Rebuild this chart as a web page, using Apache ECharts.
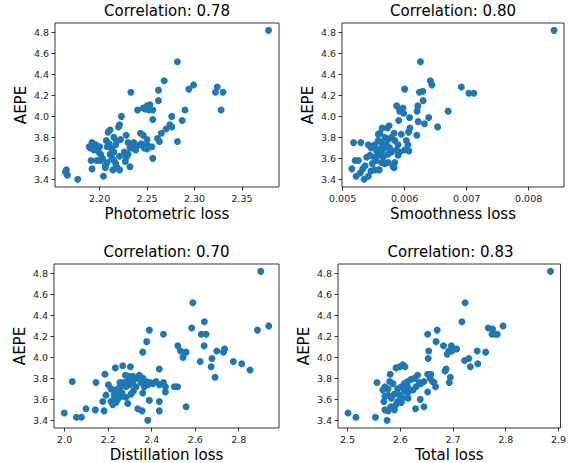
<!DOCTYPE html>
<html>
<head>
<meta charset="utf-8">
<script src="https://cdn.jsdelivr.net/npm/echarts@6/dist/echarts.min.js"></script>
<style>
  html, body { margin: 0; padding: 0; background: #fff; }
  #chart { width: 569px; height: 463px; }
</style>
</head>
<body>
<div id="chart"></div>
<script>
// ---- Data (x value, AEPE) ----
const photometric = [
  [2.378,4.82],[2.282,4.52],[2.268,4.34],[2.299,4.30],[2.294,4.26],[2.322,4.23],[2.324,4.28],[2.330,4.23],[2.328,4.06],
  [2.233,4.23],[2.262,4.25],[2.262,4.15],[2.240,4.06],[2.246,4.08],[2.250,4.10],[2.252,4.06],[2.248,4.07],[2.256,4.06],[2.253,4.11],
  [2.256,3.97],[2.290,4.06],[2.276,4.00],[2.287,3.96],[2.274,3.92],[2.276,3.90],[2.270,3.88],[2.265,3.84],[2.282,3.76],
  [2.223,4.00],[2.221,3.92],[2.220,3.90],[2.211,3.87],[2.209,3.85],[2.215,3.80],[2.228,3.82],
  [2.243,3.84],[2.246,3.82],[2.250,3.78],[2.261,3.79],[2.263,3.76],[2.250,3.73],[2.255,3.71],[2.250,3.69],[2.243,3.73],
  [2.236,3.75],[2.234,3.72],[2.232,3.70],[2.256,3.60],[2.222,3.78],[2.218,3.76],[2.217,3.73],
  [2.189,3.71],[2.192,3.75],[2.196,3.73],[2.190,3.70],[2.200,3.71],[2.194,3.68],
  [2.207,3.77],[2.208,3.71],[2.210,3.74],[2.213,3.69],[2.211,3.64],
  [2.201,3.64],[2.191,3.58],[2.197,3.58],[2.201,3.58],[2.208,3.56],[2.206,3.53],[2.215,3.58],[2.217,3.55],[2.218,3.52],
  [2.192,3.50],[2.206,3.51],[2.214,3.49],[2.221,3.49],[2.232,3.52],
  [2.204,3.43],[2.177,3.40],[2.164,3.47],[2.165,3.49],[2.166,3.44],
  [2.226,3.66],[2.228,3.61],[2.230,3.64],[2.227,3.57],[2.235,3.70],[2.240,3.72],
  [2.199,3.66],[2.213,3.60],[2.221,3.62],[2.203,3.60],
  [2.230,3.75],[2.238,3.68],[2.244,3.74],[2.247,3.70],[2.215,3.66]
];
const smoothness = [
  [0.00841,4.82],[0.006255,4.52],[0.006415,4.34],[0.006441,4.30],[0.006915,4.28],[0.007037,4.22],[0.007117,4.22],
  [0.0060,4.26],[0.006293,4.24],[0.006239,4.23],[0.006298,4.15],[0.006213,4.10],[0.006202,4.05],
  [0.005872,4.10],[0.00592,4.05],[0.005973,4.08],[0.005984,4.03],[0.006702,4.05],[0.006388,3.99],[0.00608,3.99],
  [0.006218,3.95],[0.006319,3.93],[0.006532,3.90],[0.005904,3.96],[0.006085,3.89],[0.006064,3.85],[0.006197,3.82],
  [0.00575,3.91],[0.005723,3.89],[0.005638,3.89],[0.005601,3.84],[0.005574,3.83],
  [0.005176,3.75],[0.005293,3.75],[0.005415,3.73],[0.005457,3.70],[0.005495,3.72],[0.005521,3.73],
  [0.005681,3.80],[0.005734,3.78],[0.005787,3.80],[0.00584,3.77],[0.005894,3.73],[0.006027,3.77],[0.006053,3.73],
  [0.0060,3.68],[0.006069,3.67],[0.005867,3.68],[0.00592,3.66],[0.005894,3.63],
  [0.005388,3.61],[0.005441,3.63],[0.005511,3.61],[0.005574,3.63],[0.005654,3.61],[0.005537,3.58],[0.005628,3.56],
  [0.005202,3.58],[0.005255,3.58],[0.005681,3.55],[0.005734,3.56],[0.00584,3.56],[0.005814,3.52],[0.00583,3.51],
  [0.005149,3.50],[0.005362,3.53],[0.005324,3.50],[0.005282,3.46],[0.005218,3.43],
  [0.005457,3.48],[0.005521,3.49],[0.00559,3.49],[0.005346,3.40],[0.005415,3.43],[0.005479,3.55],
  [0.005548,3.67],[0.005601,3.69],[0.005628,3.66],[0.005681,3.70],[0.005707,3.73],[0.005761,3.70],
  [0.005574,3.77],[0.005628,3.75],[0.005787,3.66],[0.005734,3.64],[0.005947,3.83],[0.00583,3.84]
];
const distillation = [
  [2.901,4.82],[2.589,4.52],[2.642,4.34],[2.584,4.28],[2.886,4.26],[2.938,4.30],[2.389,4.26],[2.454,4.22],
  [2.628,4.22],[2.650,4.22],[2.641,4.11],[2.377,4.15],[2.359,4.05],[2.520,4.11],[2.533,4.06],[2.558,4.05],[2.544,4.00],
  [2.699,4.06],[2.735,4.08],[2.730,4.05],[2.677,3.99],[2.623,3.96],[2.775,3.96],[2.814,3.94],[2.852,3.88],[2.673,3.91],[2.691,3.81],
  [2.035,3.77],[2.144,3.76],[2.185,3.84],[2.233,3.90],[2.267,3.92],[2.302,3.91],[2.435,3.89],
  [1.998,3.47],[2.054,3.43],[2.077,3.43],[2.098,3.51],[2.141,3.50],[2.181,3.49],[2.175,3.58],[2.190,3.64],
  [2.201,3.74],[2.213,3.70],[2.382,3.40],[2.558,3.53],[2.435,3.49],[2.435,3.58],[2.389,3.59],[2.336,3.51],[2.356,3.49],
  [2.290,3.56],[2.282,3.62],[2.264,3.66],[2.251,3.64],
  [2.221,3.55],[2.236,3.57],[2.213,3.58],[2.228,3.61],[2.244,3.60],[2.259,3.72],[2.270,3.76],[2.282,3.72],[2.290,3.77],[2.300,3.74],
  [2.313,3.82],[2.328,3.80],[2.343,3.83],[2.359,3.80],[2.374,3.77],[2.351,3.76],[2.366,3.72],[2.382,3.74],[2.392,3.76],
  [2.405,3.75],[2.420,3.77],[2.435,3.74],[2.454,3.76],[2.463,3.72],[2.463,3.67],[2.359,3.66],[2.504,3.72],[2.519,3.72],
  [2.279,3.83],[2.294,3.82],[2.313,3.77],[2.328,3.72],[2.316,3.68],[2.305,3.65],
  [2.236,3.69],[2.251,3.71],[2.244,3.66],[2.267,3.63],[2.228,3.65],[2.254,3.76]
];
const totalLoss = [
  [2.885,4.82],[2.723,4.52],[2.717,4.34],[2.795,4.30],[2.767,4.28],[2.775,4.27],[2.781,4.22],[2.774,4.22],[2.784,4.22],
  [2.670,4.26],[2.652,4.22],[2.668,4.15],[2.682,4.11],[2.697,4.11],[2.702,4.08],[2.707,4.08],[2.692,4.06],[2.689,4.03],[2.698,4.06],
  [2.654,4.06],[2.653,3.99],[2.746,4.06],[2.762,4.05],[2.722,3.97],[2.730,3.99],[2.733,3.91],[2.747,3.94],
  [2.687,3.89],[2.685,3.87],[2.695,3.81],[2.693,3.76],[2.599,3.91],[2.605,3.93],[2.609,3.91],[2.581,3.84],[2.556,3.76],
  [2.501,3.47],[2.516,3.43],[2.553,3.43],[2.575,3.40],[2.629,3.51],[2.645,3.53],[2.638,3.60],
  [2.652,3.84],[2.658,3.84],[2.657,3.80],[2.652,3.67],[2.667,3.72],[2.664,3.76],[2.661,3.77],[2.645,3.77],[2.639,3.75],
  [2.633,3.83],[2.627,3.80],[2.620,3.79],[2.614,3.77],[2.608,3.75],[2.614,3.72],[2.602,3.72],[2.595,3.70],[2.599,3.64],
  [2.608,3.68],[2.614,3.66],[2.615,3.61],[2.571,3.72],[2.577,3.70],[2.567,3.69],[2.580,3.77],[2.586,3.75],
  [2.571,3.63],[2.577,3.64],[2.583,3.61],[2.589,3.65],[2.595,3.58],[2.602,3.57],[2.605,3.61],
  [2.569,3.58],[2.571,3.50],[2.577,3.49],[2.582,3.53],[2.589,3.50],[2.592,3.55],[2.592,3.90],
  [2.630,3.72],[2.624,3.69],[2.636,3.76]
];

const titles = ['Correlation: 0.78', 'Correlation: 0.80', 'Correlation: 0.70', 'Correlation: 0.83'];
const xNames = ['Photometric loss', 'Smoothness loss', 'Distillation loss', 'Total loss'];
const yName = 'AEPE';
const yTicks = [3.4, 3.6, 3.8, 4.0, 4.2, 4.4, 4.6, 4.8];
const xTicks = [
  [2.20, 2.25, 2.30, 2.35],
  [0.005, 0.006, 0.007, 0.008],
  [2.0, 2.2, 2.4, 2.6, 2.8],
  [2.5, 2.6, 2.7, 2.8, 2.9]
];
const xDecimals = [2, 3, 1, 1];
const xRanges = [[2.153, 2.389], [0.00499, 0.00857], [1.951, 2.985], [2.482, 2.904]];
const yRange = [3.327, 4.89];
const allData = [photometric, smoothness, distillation, totalLoss];

// ---- Layout ----
const grids = [
  { left: 55, top: 23, width: 224, height: 164 },
  { left: 342, top: 23, width: 222, height: 164 },
  { left: 54, top: 264, width: 225, height: 165 },
  { left: 338, top: 264, width: 225, height: 165 }
];
const FONT = 'DejaVu Sans';
const tickColor = '#000';

const option = {
  animation: false,
  backgroundColor: '#fff',
  title: grids.map((g, i) => ({
    text: titles[i],
    left: g.left + g.width / 2,
    top: g.top - 20,
    textAlign: 'center',
    padding: 0,
    textStyle: { fontFamily: FONT, fontSize: 15, fontWeight: 'normal', color: '#000' }
  })),
  grid: grids.map(g => Object.assign({
    show: true, borderColor: '#000', borderWidth: 0.8, backgroundColor: 'transparent', containLabel: false
  }, g)),
  xAxis: grids.map((g, i) => ({
    type: 'value',
    gridIndex: i,
    min: xRanges[i][0],
    max: xRanges[i][1],
    name: xNames[i],
    nameLocation: 'middle',
    nameGap: 19,
    nameTextStyle: { fontFamily: FONT, fontSize: 15, color: '#000' },
    axisLine: { show: false },
    axisTick: { show: true, length: 3.5, customValues: xTicks[i], lineStyle: { color: tickColor, width: 0.8 } },
    axisLabel: {
      customValues: xTicks[i],
      margin: 6,
      fontFamily: FONT, fontSize: 9.5, color: '#222',
      formatter: v => Number(v).toFixed(xDecimals[i])
    },
    splitLine: { show: false }
  })),
  yAxis: grids.map((g, i) => ({
    type: 'value',
    gridIndex: i,
    min: yRange[0],
    max: yRange[1],
    name: yName,
    nameLocation: 'middle',
    nameGap: 27,
    nameTextStyle: { fontFamily: FONT, fontSize: 15, color: '#000' },
    axisLine: { show: false },
    axisTick: { show: true, length: 3.5, customValues: yTicks, lineStyle: { color: tickColor, width: 0.8 } },
    axisLabel: {
      customValues: yTicks,
      margin: 6,
      fontFamily: FONT, fontSize: 9.5, color: '#222',
      formatter: v => Number(v).toFixed(1)
    },
    splitLine: { show: false }
  })),
  series: allData.map((d, i) => ({
    type: 'scatter',
    xAxisIndex: i,
    yAxisIndex: i,
    data: d,
    symbolSize: 7,
    itemStyle: { color: '#1f77b4', opacity: 1 },
    emphasis: { disabled: true },
    silent: true
  }))
};

const chart = echarts.init(document.getElementById('chart'), null, { renderer: 'svg', width: 569, height: 463 });
chart.setOption(option);
</script>
</body>
</html>
